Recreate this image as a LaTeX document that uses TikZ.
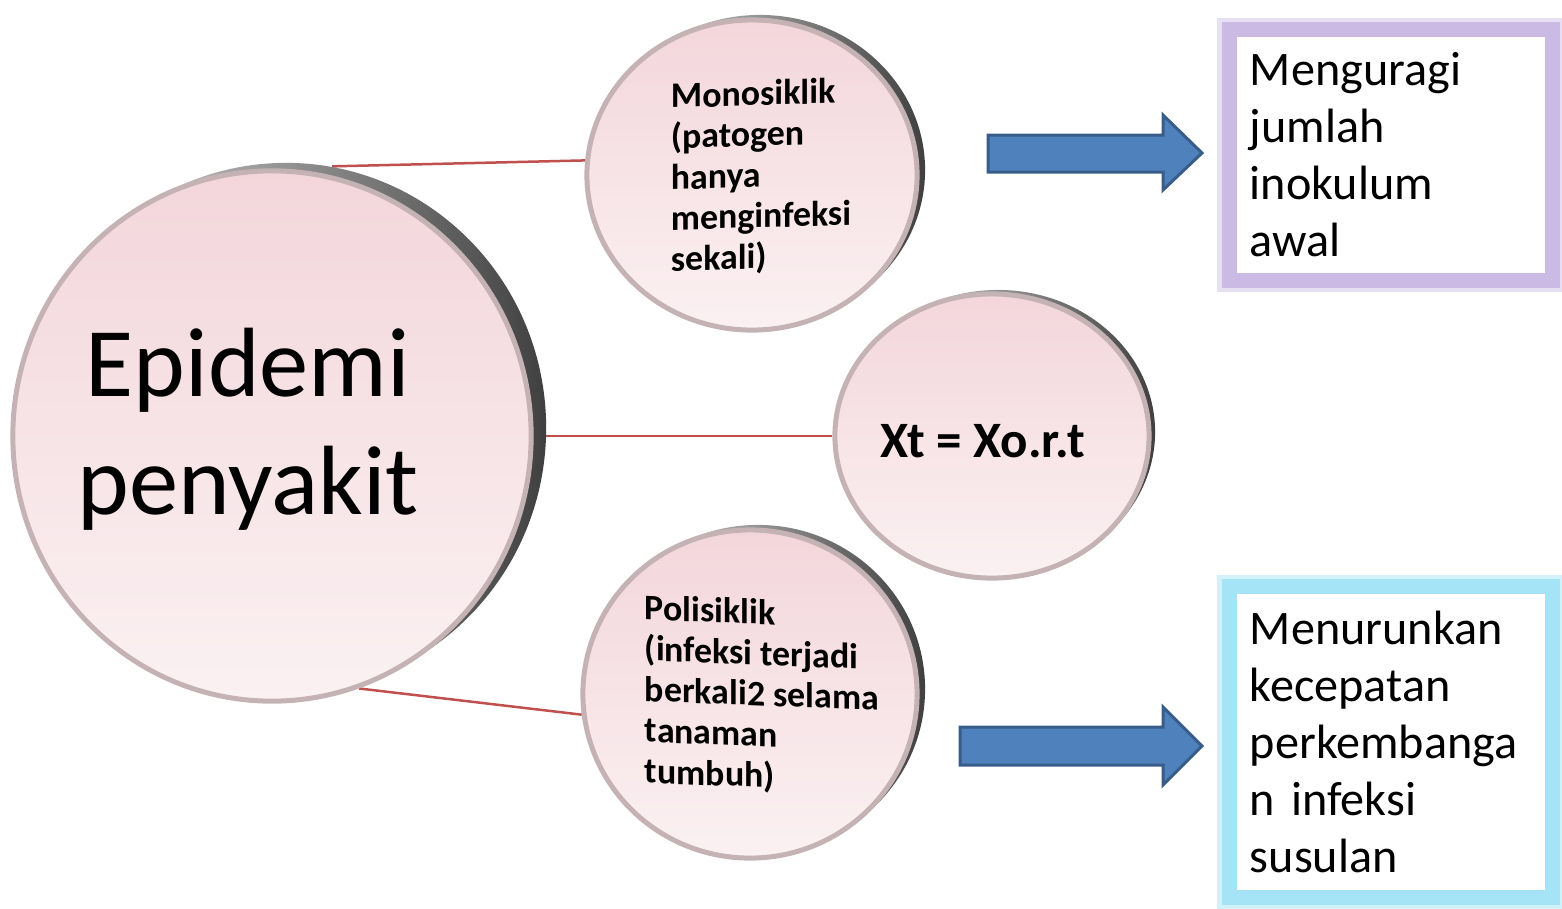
\documentclass[tikz,border=0pt]{standalone}
\usepackage{fontspec}
\setmainfont{Carlito}
\usetikzlibrary{shapes.geometric}
\pgfdeclarelayer{background}
\pgfsetlayers{background,main}
\definecolor{bubbletop}{RGB}{243,214,219}
\definecolor{bubblebot}{RGB}{251,241,242}
\definecolor{bubblerim}{RGB}{196,178,181}
\definecolor{linkred}{RGB}{192,80,77}
\definecolor{arrowfill}{RGB}{79,129,189}
\definecolor{arrowedge}{RGB}{56,93,138}
\definecolor{lavender}{RGB}{202,186,228}
\definecolor{skyglow}{RGB}{164,228,246}
\tikzset{
  bubble/.style={ellipse, draw=bubblerim, line width=0.5mm,
    top color=bubbletop, bottom color=bubblebot, inner sep=0pt},
  rimshade/.style={ellipse, left color=black!10, right color=black!75,
    inner sep=0pt},
  bubbletext/.style={align=left, font=\bfseries\fontsize{10.2}{11.6}\selectfont},
  link/.style={draw=linkred, line width=0.25mm},
  blockarrow/.style={fill=arrowfill, draw=arrowedge, line width=0.3mm},
  answer/.style={rectangle, fill=white, inner sep=0pt, align=left,
    text width=2.82cm, font=\fontsize{13.7}{16.2}\selectfont}
}
\begin{document}
\begin{tikzpicture}[x=0.01cm, y=-0.01cm]
\useasboundingbox (0,0) rectangle (1562,908);
% Dark rims behind the discs.
\node[rimshade, minimum width=5.2cm, minimum height=5.3cm] (epiRim) at (286,428) {};
\node[rimshade, minimum width=3.3cm, minimum height=3.1cm] (monoRim) at (760,170) {};
\node[rimshade, minimum width=3.14cm, minimum height=2.84cm] (xtRim) at (998,432) {};
\node[rimshade, minimum width=3.34cm, minimum height=3.28cm] (poliRim) at (758,689) {};
% The discs themselves.
\node[bubble, minimum width=5.18cm, minimum height=5.3cm] (epidemi) at (272,436) {};
\node[bubble, minimum width=3.3cm, minimum height=3.1cm] (mono) at (752,175) {};
\node[bubble, minimum width=3.14cm, minimum height=2.84cm] (xt) at (992,436) {};
\node[bubble, minimum width=3.34cm, minimum height=3.28cm] (poli) at (750,694) {};
% Texts on the discs.
\node[font=\fontsize{28}{33.6}\selectfont, align=center]
  (epiText) at (248,429) {Epidemi\\penyakit};
\node[bubbletext, yslant=0.03] (monoText) at (761,177)
  {Monosiklik\\(patogen\\hanya\\menginfeksi\\sekali)};
\node[font=\bfseries\fontsize{14.5}{16}\selectfont] (xtText) at (983,441) {Xt = Xo.r.t};
\node[bubbletext, yslant=-0.04] (poliText) at (762,696)
  {Polisiklik\\(infeksi terjadi\\berkali2 selama\\tanaman\\tumbuh)};
% Links from the big disc, kept behind everything.
\begin{pgfonlayer}{background}
  \draw[link] (epiRim.80) -- (mono.175);
  \draw[link] (epidemi.east) -- (xt.west);
  \draw[link] (epidemi.-71) -- (poli.187);
\end{pgfonlayer}
% Block arrows.
\draw[blockarrow] (988,135) -- (1163,135) -- (1163,115) -- (1202,153)
  -- (1163,190) -- (1163,172) -- (988,172) -- cycle;
\draw[blockarrow] (960,727) -- (1163,727) -- (1163,707) -- (1202,746)
  -- (1163,785) -- (1163,765) -- (960,765) -- cycle;
% Result boxes.
\node[answer, draw=lavender, line width=1.5mm,
  preaction={draw=lavender!45, line width=2.4mm},
  minimum width=3.23cm, minimum height=2.5cm] (awal) at (1391,155)
  {Menguragi\\jumlah\\inokulum\\awal};
\node[answer, draw=skyglow, line width=1.5mm,
  preaction={draw=skyglow!50, line width=2.4mm},
  minimum width=3.23cm, minimum height=3.1cm] (susulan) at (1391,742)
  {Menurunkan\\kecepatan\\perkembanga\\n infeksi\\susulan};
\end{tikzpicture}
\end{document}
